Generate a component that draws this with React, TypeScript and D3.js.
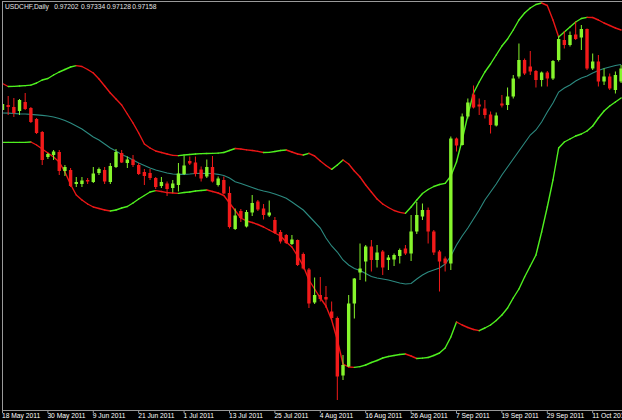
import React from "react";
import * as d3 from "d3";

const W = 622;
const H = 420;

const symbolTitle = ["USDCHF,Daily", "0.97202", "0.97334", "0.97128", "0.97158"];

const tickBars = [0, 8, 16, 24, 32, 40, 48, 56, 64, 72, 80, 88, 96, 104];
const tickLabels = [
  "18 May 2011", "30 May 2011", "9 Jun 2011", "21 Jun 2011", "1 Jul 2011",
  "13 Jul 2011", "25 Jul 2011", "4 Aug 2011", "16 Aug 2011", "26 Aug 2011",
  "7 Sep 2011", "19 Sep 2011", "29 Sep 2011", "11 Oct 2011",
];

const open = [
  0.8760, 0.8790, 0.8778, 0.8754, 0.8808, 0.8772, 0.8706, 0.8628, 0.8478, 0.8490,
  0.8508, 0.8394, 0.8400, 0.8316, 0.8316, 0.8340, 0.8328, 0.8382, 0.8400, 0.8328,
  0.8418, 0.8502, 0.8442, 0.8463, 0.8430, 0.8388, 0.8382, 0.8352, 0.8304, 0.8319,
  0.8292, 0.8310, 0.8376, 0.8454, 0.8445, 0.8403, 0.8361, 0.8418, 0.8310, 0.8340,
  0.8262, 0.8046, 0.8154, 0.8061, 0.8145, 0.8211, 0.8169, 0.8127, 0.8100, 0.8028,
  0.8010, 0.7956, 0.7980, 0.7896, 0.7803, 0.7605, 0.7650, 0.7638, 0.7551, 0.7512,
  0.7167, 0.7221, 0.7599, 0.7785, 0.7851, 0.7941, 0.7860, 0.7911, 0.7860, 0.7863,
  0.7884, 0.7929, 0.7899, 0.8031, 0.8121, 0.8160, 0.8031, 0.7911, 0.7869, 0.7839,
  0.8589, 0.8550, 0.8721, 0.8853, 0.8793, 0.8769, 0.8733, 0.8667, 0.8799, 0.8790,
  0.8841, 0.8961, 0.9060, 0.9021, 0.8994, 0.8940, 0.8985, 0.8949, 0.9060, 0.9180,
  0.9150, 0.9213, 0.9195, 0.9246, 0.9009, 0.9051, 0.8931, 0.8961, 0.8880, 0.8931,
];
const high = [
  0.8820, 0.8844, 0.8832, 0.8826, 0.8862, 0.8778, 0.8712, 0.8634, 0.8502, 0.8520,
  0.8520, 0.8430, 0.8412, 0.8358, 0.8358, 0.8352, 0.8418, 0.8415, 0.8418, 0.8442,
  0.8526, 0.8520, 0.8481, 0.8490, 0.8442, 0.8406, 0.8406, 0.8358, 0.8358, 0.8331,
  0.8340, 0.8442, 0.8484, 0.8481, 0.8481, 0.8421, 0.8463, 0.8484, 0.8361, 0.8361,
  0.8301, 0.8169, 0.8166, 0.8160, 0.8250, 0.8220, 0.8196, 0.8217, 0.8118, 0.8040,
  0.8016, 0.8010, 0.7983, 0.7905, 0.7812, 0.7755, 0.7758, 0.7704, 0.7611, 0.7521,
  0.7290, 0.7650, 0.7752, 0.7959, 0.7950, 0.7980, 0.7950, 0.7920, 0.7890, 0.7899,
  0.7929, 0.7950, 0.8130, 0.8208, 0.8199, 0.8175, 0.8040, 0.7920, 0.7881, 0.8601,
  0.8595, 0.8739, 0.8829, 0.8907, 0.8829, 0.8820, 0.8751, 0.8745, 0.8850, 0.8895,
  0.8970, 0.9159, 0.9069, 0.9114, 0.9000, 0.8991, 0.8994, 0.9060, 0.9201, 0.9234,
  0.9231, 0.9291, 0.9270, 0.9249, 0.9099, 0.9090, 0.9009, 0.8979, 0.8991, 0.9030,
];
const low = [
  0.8748, 0.8730, 0.8718, 0.8730, 0.8760, 0.8682, 0.8616, 0.8430, 0.8466, 0.8460,
  0.8370, 0.8364, 0.8298, 0.8298, 0.8298, 0.8316, 0.8322, 0.8370, 0.8316, 0.8316,
  0.8412, 0.8442, 0.8412, 0.8418, 0.8370, 0.8310, 0.8340, 0.8286, 0.8292, 0.8244,
  0.8265, 0.8271, 0.8370, 0.8430, 0.8361, 0.8331, 0.8352, 0.8325, 0.8301, 0.8256,
  0.8049, 0.8040, 0.8088, 0.8055, 0.8124, 0.8154, 0.8103, 0.8118, 0.8019, 0.7959,
  0.7956, 0.7950, 0.7824, 0.7803, 0.7572, 0.7596, 0.7611, 0.7572, 0.7500, 0.7020,
  0.7140, 0.7218, 0.7509, 0.7740, 0.7731, 0.7791, 0.7815, 0.7770, 0.7800, 0.7824,
  0.7839, 0.7890, 0.7854, 0.8016, 0.8100, 0.7959, 0.7890, 0.7671, 0.7791, 0.7800,
  0.8511, 0.8547, 0.8709, 0.8769, 0.8730, 0.8709, 0.8619, 0.8661, 0.8775, 0.8760,
  0.8829, 0.8949, 0.8970, 0.8970, 0.8895, 0.8901, 0.8901, 0.8940, 0.9051, 0.9129,
  0.9141, 0.9180, 0.9120, 0.9000, 0.9000, 0.8901, 0.8910, 0.8880, 0.8859, 0.8922,
];
const close = [
  0.8796, 0.8778, 0.8742, 0.8820, 0.8766, 0.8688, 0.8622, 0.8460, 0.8496, 0.8511,
  0.8394, 0.8418, 0.8304, 0.8328, 0.8337, 0.8331, 0.8379, 0.8406, 0.8331, 0.8424,
  0.8508, 0.8445, 0.8463, 0.8430, 0.8376, 0.8364, 0.8352, 0.8298, 0.8328, 0.8286,
  0.8319, 0.8379, 0.8427, 0.8439, 0.8376, 0.8349, 0.8418, 0.8331, 0.8349, 0.8259,
  0.8058, 0.8127, 0.8112, 0.8148, 0.8202, 0.8163, 0.8130, 0.8145, 0.8022, 0.7971,
  0.7962, 0.7983, 0.7830, 0.7809, 0.7599, 0.7650, 0.7626, 0.7623, 0.7512, 0.7161,
  0.7230, 0.7599, 0.7749, 0.7809, 0.7941, 0.7860, 0.7905, 0.7815, 0.7875, 0.7890,
  0.7920, 0.7899, 0.8031, 0.8130, 0.8160, 0.8031, 0.7905, 0.7851, 0.7839, 0.8589,
  0.8547, 0.8721, 0.8805, 0.8775, 0.8781, 0.8730, 0.8670, 0.8727, 0.8787, 0.8841,
  0.8949, 0.9060, 0.8979, 0.8991, 0.8940, 0.8985, 0.8949, 0.9054, 0.9186, 0.9150,
  0.9210, 0.9186, 0.9246, 0.9009, 0.9051, 0.8931, 0.8961, 0.8889, 0.8970, 0.9009,
];

const upperBand = [
  0.8919, 0.8901, 0.8902, 0.8904, 0.8906, 0.8909, 0.8922, 0.8940, 0.8949, 0.8970,
  0.8988, 0.9003, 0.9018, 0.9026, 0.9021, 0.9003, 0.8982, 0.8946, 0.8904, 0.8862,
  0.8826, 0.8790, 0.8736, 0.8682, 0.8622, 0.8556, 0.8532, 0.8514, 0.8505, 0.8496,
  0.8488, 0.8486, 0.8490, 0.8493, 0.8496, 0.8498, 0.8499, 0.8500, 0.8501, 0.8505,
  0.8517, 0.8529, 0.8526, 0.8521, 0.8517, 0.8512, 0.8505, 0.8506, 0.8511, 0.8517,
  0.8520, 0.8508, 0.8496, 0.8490, 0.8500, 0.8484, 0.8454, 0.8427, 0.8404, 0.8430,
  0.8460, 0.8436, 0.8394, 0.8358, 0.8310, 0.8268, 0.8226, 0.8196, 0.8175, 0.8157,
  0.8146, 0.8140, 0.8178, 0.8220, 0.8259, 0.8283, 0.8301, 0.8313, 0.8320, 0.8364,
  0.8448, 0.8580, 0.8730, 0.8862, 0.8928, 0.8988, 0.9036, 0.9090, 0.9144, 0.9186,
  0.9240, 0.9300, 0.9342, 0.9372, 0.9393, 0.9402, 0.9387, 0.9300, 0.9198, 0.9228,
  0.9258, 0.9288, 0.9309, 0.9316, 0.9315, 0.9300, 0.9282, 0.9267, 0.9252, 0.9240,
];
const middleBand = [
  0.8742, 0.8741, 0.8739, 0.8737, 0.8736, 0.8734, 0.8731, 0.8728, 0.8724, 0.8718,
  0.8709, 0.8697, 0.8682, 0.8664, 0.8646, 0.8622, 0.8598, 0.8580, 0.8556, 0.8532,
  0.8514, 0.8493, 0.8478, 0.8460, 0.8442, 0.8427, 0.8412, 0.8400, 0.8391, 0.8382,
  0.8376, 0.8374, 0.8374, 0.8376, 0.8379, 0.8380, 0.8379, 0.8379, 0.8374, 0.8367,
  0.8352, 0.8330, 0.8319, 0.8307, 0.8295, 0.8283, 0.8274, 0.8266, 0.8256, 0.8244,
  0.8230, 0.8208, 0.8184, 0.8160, 0.8124, 0.8088, 0.8052, 0.7992, 0.7944, 0.7908,
  0.7860, 0.7830, 0.7809, 0.7797, 0.7779, 0.7761, 0.7752, 0.7746, 0.7740, 0.7731,
  0.7722, 0.7716, 0.7719, 0.7746, 0.7770, 0.7788, 0.7800, 0.7812, 0.7836, 0.7884,
  0.7950, 0.8004, 0.8052, 0.8106, 0.8160, 0.8220, 0.8268, 0.8316, 0.8370, 0.8418,
  0.8466, 0.8514, 0.8562, 0.8610, 0.8640, 0.8688, 0.8748, 0.8802, 0.8868, 0.8892,
  0.8910, 0.8934, 0.8952, 0.8964, 0.8982, 0.8997, 0.9009, 0.9018, 0.9027, 0.9033,
];
const lowerBand = [
  0.8566, 0.8566, 0.8566, 0.8566, 0.8566, 0.8568, 0.8550, 0.8526, 0.8502, 0.8478,
  0.8448, 0.8388, 0.8313, 0.8250, 0.8220, 0.8196, 0.8178, 0.8169, 0.8160, 0.8154,
  0.8160, 0.8172, 0.8181, 0.8202, 0.8226, 0.8247, 0.8268, 0.8276, 0.8271, 0.8264,
  0.8262, 0.8260, 0.8265, 0.8268, 0.8274, 0.8277, 0.8280, 0.8271, 0.8262, 0.8247,
  0.8202, 0.8157, 0.8112, 0.8094, 0.8085, 0.8073, 0.8058, 0.8040, 0.8022, 0.8004,
  0.7968, 0.7938, 0.7884, 0.7824, 0.7740, 0.7686, 0.7632, 0.7584, 0.7500, 0.7380,
  0.7236, 0.7218, 0.7216, 0.7220, 0.7230, 0.7245, 0.7257, 0.7272, 0.7281, 0.7287,
  0.7293, 0.7296, 0.7284, 0.7269, 0.7271, 0.7275, 0.7287, 0.7302, 0.7332, 0.7398,
  0.7488, 0.7470, 0.7455, 0.7443, 0.7436, 0.7452, 0.7470, 0.7497, 0.7530, 0.7572,
  0.7632, 0.7686, 0.7758, 0.7824, 0.7890, 0.8028, 0.8178, 0.8340, 0.8532, 0.8568,
  0.8586, 0.8604, 0.8616, 0.8634, 0.8664, 0.8712, 0.8754, 0.8784, 0.8808, 0.8832,
];

const BULL = "#86f52c";
const BEAR = "#f21a1a";
const BAND_UP = "#4ff01f";
const BAND_DOWN = "#ea1616";
const MID = "#2c8a80";
const FRAME = "#9a9a9a";

export default function App() {
  const n = close.length;
  const plotBottom = 410;
  const x = d3.scaleLinear().domain([0, n - 1]).range([2.5, 2.5 + 5.675 * (n - 1)]);
  const y = d3.scaleLinear().domain([0.942, 0.942 - 0.0006 * plotBottom]).range([0, plotBottom]);
  const bodyW = 3.4;

  const bandSegments = (vals: number[], key: string) =>
    vals.slice(1).map((v, k) => {
      const i = k + 1;
      const up = v >= vals[i - 1];
      return (
        <line
          key={key + i}
          x1={x(i - 1)}
          y1={y(vals[i - 1])}
          x2={x(i)}
          y2={y(v)}
          stroke={up ? BAND_UP : BAND_DOWN}
          strokeWidth={1.4}
          strokeLinecap="round"
        />
      );
    });

  const midLine = d3
    .line<number>()
    .x((_, i) => x(i))
    .y((d) => y(d))(middleBand) as string;

  const headerX = [5, 54.3, 81, 106.7, 132.3];

  return (
    <svg
      width={W}
      height={H}
      style={{ position: "absolute", left: 0, top: 0, display: "block", background: "#000" }}
      fontFamily="'Liberation Sans', Arial, sans-serif"
    >
      <rect x={0} y={0} width={W} height={H} fill="#000" />
      <defs>
        <clipPath id="plot">
          <rect x={2.5} y={2} width={W - 2.5} height={plotBottom - 2} />
        </clipPath>
      </defs>
      <g clipPath="url(#plot)">
        <path d={midLine} fill="none" stroke={MID} strokeWidth={1.1} />
        {bandSegments(upperBand, "u")}
        {bandSegments(lowerBand, "l")}
        {close.map((c, i) => {
          const o = open[i];
          const bull = c >= o;
          const col = bull ? BULL : BEAR;
          const yTop = y(Math.max(o, c));
          const yBot = y(Math.min(o, c));
          return (
            <g key={"c" + i}>
              <line x1={x(i)} x2={x(i)} y1={y(high[i])} y2={y(low[i])} stroke={col} strokeWidth={1} />
              <rect
                x={x(i) - bodyW / 2}
                y={yTop}
                width={bodyW}
                height={Math.max(1, yBot - yTop)}
                fill={col}
              />
            </g>
          );
        })}
      </g>
      {/* frame */}
      <line x1={2.5} x2={W} y1={1.5} y2={1.5} stroke={FRAME} strokeWidth={1} />
      <line x1={2.5} x2={2.5} y1={1} y2={plotBottom + 0.5} stroke={FRAME} strokeWidth={1} />
      <line x1={2} x2={W} y1={plotBottom + 0.5} y2={plotBottom + 0.5} stroke={FRAME} strokeWidth={1} />
      {tickBars.map((b, k) => (
        <g key={"t" + k}>
          <line x1={x(b)} x2={x(b)} y1={plotBottom} y2={plotBottom + 3} stroke={FRAME} strokeWidth={1} />
          <text x={x(b) - 0.5} y={417.8} fill="#ffffff" fontSize={6.7}>
            {tickLabels[k]}
          </text>
        </g>
      ))}
      {symbolTitle.map((s, k) => (
        <text key={"h" + k} x={headerX[k]} y={8.6} fill="#e6e6e6" fontSize={6.7}>
          {s}
        </text>
      ))}
    </svg>
  );
}
